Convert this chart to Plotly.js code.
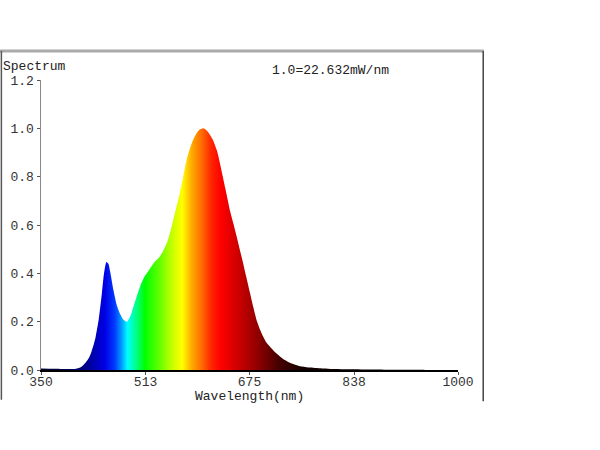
<!DOCTYPE html>
<html>
<head>
<meta charset="utf-8">
<script src="https://cdn.plot.ly/plotly-3.0.1.min.js"></script>
<style>html,body{margin:0;padding:0;background:#fff;}#chart{width:600px;height:450px;}</style>
</head>
<body>
<div id="chart"></div>
<script>
// Spectral power distribution (relative, 1.0 = 22.632 mW/nm)
const wavelength = [350,370,390,400,405,410,415,420,425,428,431,435,440,445,448,452,455,458,463,468,473,478,484,490,495,499,505,510,515,520,525,530,535,540,546,551,556,561,566,571,577,582,587,592,597,603,608,613,618,624,629,633,637,641,645,650,655,660,665,670,676,681,686,691,696,701,707,715,723,730,738,746,754,770,790,805,830,860,900,950,1000];
const intensity  = [0.006,0.005,0.004,0.004,0.005,0.009,0.018,0.032,0.052,0.07,0.095,0.135,0.21,0.32,0.395,0.447,0.44,0.405,0.33,0.27,0.234,0.21,0.2,0.228,0.27,0.303,0.35,0.38,0.40,0.42,0.44,0.455,0.469,0.49,0.524,0.566,0.62,0.673,0.727,0.79,0.869,0.915,0.952,0.978,0.994,1.0,0.992,0.975,0.952,0.91,0.855,0.805,0.755,0.705,0.655,0.605,0.552,0.497,0.443,0.385,0.317,0.26,0.207,0.17,0.14,0.115,0.096,0.073,0.055,0.041,0.03,0.022,0.016,0.01,0.006,0.004,0.003,0.002,0.001,0.0005,0];

// Colour of light per wavelength (nm)
const colorStopsNm = [350,410,430,450,465,475,485,500,512,535,555,570,585,600,615,630,660,690,720,760,1000];
const colorStops   = ['rgb(0,0,40)','rgb(0,0,110)','rgb(0,0,170)','rgb(0,0,230)','rgb(0,60,255)','rgb(0,150,255)','rgb(0,255,255)','rgb(0,255,120)','rgb(0,255,0)','rgb(100,255,0)','rgb(200,255,0)','rgb(255,255,0)','rgb(255,170,0)','rgb(255,110,0)','rgb(255,40,0)','rgb(255,0,0)','rgb(200,0,0)','rgb(140,0,0)','rgb(70,0,0)','rgb(20,0,0)','rgb(0,0,0)'];

const xTickVals = [350,513,675,838,1000];
const xTickText = ['350','513','675','838','1000'];
const yTickVals = [0,0.2,0.4,0.6,0.8,1.0,1.2];

const gMin = 350, gMax = 1000;
const colorscale = colorStopsNm.map((nm,i)=>[(nm-gMin)/(gMax-gMin), colorStops[i]]);

const fam = '"Liberation Mono", "Courier New", monospace';
const font = {family:fam, size:13, color:'#333'};

const trace = {
  x: wavelength, y: intensity, type:'scatter', mode:'lines',
  line:{shape:'spline', smoothing:0.6, width:0, color:'rgba(0,0,0,0)'},
  fill:'tozeroy',
  fillgradient:{type:'horizontal', colorscale: colorscale, start:gMin, stop:gMax},
  hoverinfo:'x+y'
};

const layout = {
  width:600, height:450,
  margin:{l:41, r:142, t:80, b:80},
  paper_bgcolor:'#fff', plot_bgcolor:'#fff',
  showlegend:false,
  font: font,
  xaxis:{
    range:[350,1000], tickvals:xTickVals, ticktext:xTickText,
    showgrid:false, zeroline:false,
    showline:true, linecolor:'#000', linewidth:1.5,
    ticks:'outside', ticklen:3, tickcolor:'#555',
    ticklabelstandoff:-4,
    tickfont:font
  },
  yaxis:{
    range:[0,1.2], tickvals:yTickVals, tickformat:'.1f',
    showgrid:false, zeroline:false,
    showline:true, linecolor:'#888', linewidth:1.5,
    ticks:'outside', ticklen:3, tickcolor:'#555',
    tickfont:font
  },
  annotations:[
    {text:'Spectrum', xref:'paper', yref:'paper', x:-0.097, y:1.045, xanchor:'left', yanchor:'middle', showarrow:false, font:{family:fam,size:13,color:'#222'}},
    {text:'1.0=22.632mW/nm', xref:'paper', yref:'paper', x:0.549, y:1.034, xanchor:'left', yanchor:'middle', showarrow:false, font:{family:fam,size:13,color:'#222'}},
    {text:'Wavelength(nm)', xref:'paper', yref:'paper', x:0.5, y:-0.09, xanchor:'center', yanchor:'middle', showarrow:false, font:{family:fam,size:13,color:'#222'}}
  ],
  shapes:[
    {type:'line', xref:'paper', yref:'paper', x0:-0.1, x1:1.062, y0:1.1, y1:1.1, line:{color:'#aaa', width:3}},
    {type:'line', xref:'paper', yref:'paper', x0:-0.095, x1:-0.095, y0:1.1, y1:-0.103, line:{color:'#555', width:1.5}},
    {type:'line', xref:'paper', yref:'paper', x0:1.0605, x1:1.0605, y0:1.1, y1:-0.108, line:{color:'#444', width:1.5}}
  ]
};

Plotly.newPlot('chart', [trace], layout, {staticPlot:true, displayModeBar:false});
</script>
</body>
</html>
